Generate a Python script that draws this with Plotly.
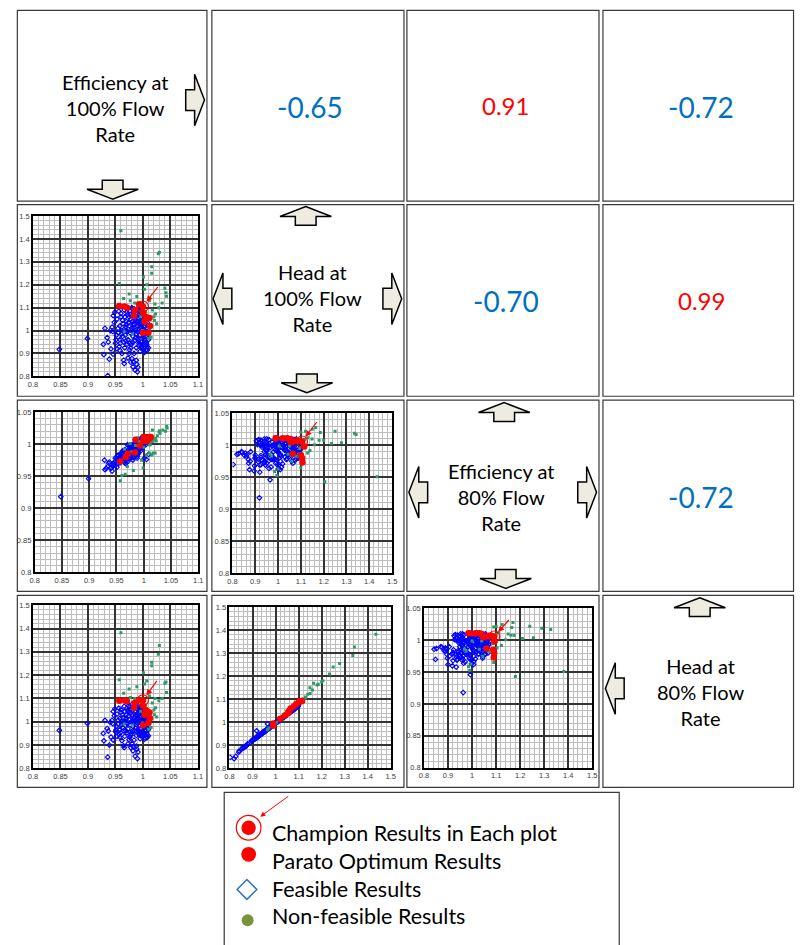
import plotly.graph_objects as go

W, H = 801, 945

# ---------------------------------------------------------------------------
# Normalised design responses (1.0 = baseline impeller)
# ---------------------------------------------------------------------------
# Feasible designs
feas_eff100 = [
    0.848, 0.899, 0.936, 0.928, 0.929, 0.935, 0.939, 0.946, 0.945, 0.948,
    0.946, 0.956, 0.958, 0.959, 0.950, 0.952, 0.955, 0.953, 0.957, 0.960,
    0.962, 0.962, 0.964, 0.965, 0.965, 0.966, 0.980, 0.983, 0.982, 0.989,
    0.986, 0.990, 0.991, 0.975, 0.995, 1.000, 1.005, 1.008, 1.002, 0.998,
    1.006, 1.010, 0.993, 0.988, 0.968, 0.970, 0.970, 0.972, 0.973, 0.975,
    0.976, 0.977, 0.978, 0.979, 0.980, 0.981, 0.982, 0.983, 0.984, 0.985,
    0.986, 0.987, 0.988, 0.989, 0.990, 0.991, 0.992, 0.993, 0.994, 0.995,
    0.996, 0.997, 0.998, 0.999, 1.000, 1.001, 1.002, 1.003, 1.004, 1.005,
    1.006, 1.007, 1.008, 1.010, 0.974, 0.980, 0.966, 0.990, 0.963, 0.969,
    0.978, 0.984, 0.993, 0.996, 0.960, 0.967, 0.986, 1.000, 0.982, 0.975,
    0.971, 0.995, 1.003, 0.988, 0.958, 0.951, 0.942, 0.944,
    0.961, 0.963, 0.967, 0.969, 0.971, 0.972, 0.974, 0.976, 0.977, 0.979,
    0.981, 0.983, 0.985, 0.987, 0.988, 0.990, 0.991, 0.992, 0.994, 0.995,
    0.997, 0.998, 0.999, 1.001, 1.002, 1.004, 1.005, 1.007, 1.009, 1.010,
    0.958, 0.955, 0.953, 0.949, 0.941, 0.937, 0.931, 0.976, 0.984, 0.973,
    0.978, 0.988, 0.996, 1.003, 1.008, 0.993, 0.981, 0.970, 0.966, 0.986,
]
feas_head100 = [
    0.918, 0.965, 0.803, 0.940, 0.895, 0.969, 0.875, 0.897, 0.996, 1.036,
    1.065, 1.084, 0.914, 0.945, 0.945, 0.980, 1.010, 1.050, 0.930, 1.060,
    0.900, 1.000, 1.030, 0.950, 0.871, 0.856, 0.878, 0.864, 0.842, 0.853,
    0.827, 0.820, 0.840, 0.900, 0.910, 0.920, 0.915, 0.930, 0.940, 0.930,
    0.950, 0.925, 0.945, 0.925, 0.980, 1.000, 1.040, 1.070, 0.960, 1.020,
    1.085, 0.990, 1.050, 0.940, 1.010, 1.065, 0.975, 1.030, 1.095, 0.955,
    1.000, 1.045, 0.985, 1.075, 1.020, 0.965, 1.055, 1.005, 1.085, 0.980,
    1.035, 0.950, 1.065, 1.000, 1.045, 0.970, 1.020, 0.990, 1.060, 0.960,
    1.010, 0.975, 1.035, 0.995, 1.098, 1.100, 1.090, 1.095, 0.975, 1.015,
    0.925, 1.012, 0.935, 1.080, 1.075, 0.925, 1.060, 0.985, 0.995, 1.060,
    0.940, 1.025, 1.040, 1.038, 1.020, 0.960, 0.920, 1.015,
    0.985, 1.045, 1.060, 0.955, 1.080, 0.995, 1.035, 0.945, 1.070, 1.000,
    0.950, 1.080, 1.025, 0.970, 1.090, 0.995, 1.040, 0.955, 1.015, 1.060,
    0.995, 1.030, 0.940, 1.005, 1.070, 0.975, 1.030, 0.940, 1.010, 0.960,
    0.960, 0.990, 0.920, 1.080, 1.000, 0.950, 1.010, 0.915, 0.900, 0.880,
    0.862, 0.870, 0.925, 0.905, 0.915, 1.070, 1.040, 1.025, 1.005, 1.085,
]
feas_eff80 = [
    0.918, 0.946, 0.970, 0.975, 0.960, 0.966, 0.962, 0.968, 0.970, 0.978,
    0.972, 0.984, 0.974, 0.985, 0.969, 0.981, 0.975, 0.983, 0.977, 0.987,
    0.979, 0.990, 0.982, 0.991, 0.972, 0.988, 0.975, 0.986, 0.989, 0.984,
    0.987, 0.986, 0.990, 0.985, 1.001, 1.004, 1.009, 1.006, 1.002, 0.997,
    1.010, 1.008, 0.993, 0.981, 0.979, 0.994, 0.985, 0.991, 0.982, 0.996,
    0.988, 0.993, 0.999, 0.990, 0.986, 0.997, 1.000, 0.992, 0.995, 0.996,
    1.003, 0.994, 1.001, 1.000, 1.005, 0.996, 1.004, 1.002, 1.007, 0.990,
    1.008, 1.003, 1.001, 1.009, 1.006, 0.978, 1.010, 1.004, 1.008, 0.976,
    1.010, 1.005, 1.009, 1.007, 0.993, 0.998, 0.980, 1.003, 0.978, 0.983,
    0.984, 0.997, 0.999, 1.010, 0.977, 0.970, 0.989, 0.999, 0.991, 0.983,
    0.973, 1.006, 1.011, 0.998, 0.971, 0.964, 0.958, 0.966,
    0.978, 0.986, 0.975, 0.984, 0.990, 0.977, 0.992, 0.981, 0.996, 0.989,
    0.993, 0.986, 1.000, 0.985, 1.004, 0.999, 0.991, 1.001, 1.005, 0.997,
    1.007, 0.995, 1.006, 1.002, 1.009, 0.999, 1.003, 1.010, 0.984, 1.009,
    0.982, 0.972, 0.969, 0.979, 0.963, 0.972, 0.962, 0.978, 0.981, 0.990,
    0.983, 0.978, 1.000, 1.007, 1.004, 0.994, 0.979, 0.999, 0.970, 0.992,
]
feas_head80 = [
    0.963, 0.993, 0.848, 0.950, 0.918, 0.971, 0.900, 0.921, 0.992, 1.026,
    1.044, 1.058, 0.934, 0.953, 0.958, 0.980, 1.007, 1.033, 0.946, 1.041,
    0.919, 0.999, 1.018, 0.961, 0.897, 0.889, 0.906, 0.892, 0.875, 0.883,
    0.852, 0.842, 0.870, 0.923, 0.927, 0.938, 0.930, 0.945, 0.953, 0.942,
    0.960, 0.939, 0.957, 0.941, 0.984, 0.995, 1.029, 1.048, 0.969, 1.010,
    1.064, 0.987, 1.037, 0.949, 1.003, 1.048, 0.980, 1.018, 1.071, 0.961,
    0.999, 1.029, 0.988, 1.056, 1.014, 0.968, 1.041, 0.999, 1.060, 0.984,
    1.022, 0.957, 1.048, 0.995, 1.033, 0.976, 1.010, 0.991, 1.045, 0.965,
    1.007, 0.976, 1.026, 0.991, 1.069, 1.075, 1.066, 1.067, 0.976, 1.010,
    0.942, 1.004, 0.946, 1.056, 1.052, 0.938, 1.045, 0.984, 0.995, 1.041,
    0.953, 1.018, 1.025, 1.024, 1.014, 0.965, 0.934, 1.006,
    0.986, 1.030, 1.044, 0.962, 1.058, 0.992, 1.024, 0.955, 1.052, 0.998,
    0.960, 1.058, 1.016, 0.973, 1.065, 0.994, 1.029, 0.962, 1.010, 1.043,
    0.993, 1.021, 0.951, 1.003, 1.051, 0.977, 1.021, 0.952, 1.006, 0.966,
    0.966, 0.989, 0.937, 1.055, 0.997, 0.960, 1.006, 0.933, 0.921, 0.905,
    0.889, 0.895, 0.940, 0.925, 0.933, 1.052, 1.027, 1.016, 1.000, 1.062,
]

# Non-feasible designs
nonf_eff100 = [
    0.960, 1.030, 1.028, 1.016, 1.016, 1.001, 0.957, 1.007, 1.003, 1.042,
    1.043, 0.965, 0.989, 0.977, 1.022, 1.012, 0.985, 1.023, 1.021, 1.015,
    1.010, 0.999, 0.981, 0.966, 0.996, 1.005, 1.017, 1.020, 1.029, 1.035,
    1.010, 1.025, 0.975, 1.000, 1.012, 0.992, 1.040, 0.970,
]
nonf_head100 = [
    1.435, 1.342, 1.335, 1.278, 1.250, 1.234, 1.205, 1.200, 1.180, 1.165,
    1.150, 1.140, 1.149, 1.130, 1.116, 1.130, 1.120, 1.072, 1.044, 0.971,
    0.965, 1.000, 0.985, 0.995, 1.060, 1.080, 1.090, 1.060, 1.100, 1.120,
    1.050, 1.030, 1.160, 1.095, 1.005, 1.110, 1.185, 1.100,
]
nonf_eff80 = [
    0.951, 1.017, 1.019, 1.004, 1.022, 1.003, 0.943, 1.008, 1.008, 1.028,
    1.025, 0.992, 1.010, 0.988, 1.009, 1.012, 0.998, 1.005, 0.986, 0.983,
    0.986, 0.963, 0.959, 0.953, 0.975, 0.983, 0.986, 1.007, 1.021, 1.022,
    0.999, 1.013, 1.001, 0.995, 0.999, 1.004, 1.020, 0.965,
]
nonf_head80 = [
    1.382, 1.327, 1.290, 1.255, 1.240, 1.210, 1.180, 1.175, 1.162, 1.170,
    1.125, 1.122, 1.150, 1.104, 1.100, 1.110, 1.100, 1.060, 1.030, 0.975,
    0.968, 0.995, 0.985, 0.990, 1.045, 1.070, 1.080, 1.050, 1.090, 1.100,
    1.040, 1.020, 1.140, 1.085, 1.000, 1.095, 1.165, 1.090,
]

# Pareto-optimum designs
par_eff100 = [0.957, 0.967, 0.971, 0.984, 0.993, 1.000, 1.003, 1.005, 1.008, 1.012, 1.013, 1.000, 1.010, 0.985]
par_head100 = [1.107, 1.105, 1.100, 1.065, 1.115, 1.080, 1.040, 1.060, 1.055, 1.055, 1.020, 0.990, 0.990, 1.090]
par_eff80 = [0.973, 0.980, 0.985, 0.987, 0.998, 1.007, 1.011, 1.005, 1.006, 1.010, 1.011, 1.011, 1.011, 1.007]
par_head80 = [1.090, 1.092, 1.088, 1.060, 1.093, 1.070, 1.030, 1.050, 1.045, 1.040, 1.015, 0.985, 0.995, 1.080]

# Champion design
champ_eff100 = [1.000]
champ_head100 = [1.105]
champ_eff80 = [1.006]
champ_head80 = [1.092]

# Correlation coefficients between responses
corr_values = ["-0.65", "0.91", "-0.72", "-0.70", "0.99", "-0.72"]

# Response names
var_labels = [
    "Efficiency at<br>100% Flow<br>Rate",
    "Head at<br>100% Flow<br>Rate",
    "Efficiency at<br>80% Flow<br>Rate",
    "Head at<br>80% Flow<br>Rate",
]

# Tick labels
eff100_ticks = [0.8, 0.85, 0.9, 0.95, 1.0, 1.05, 1.1]
eff100_text = ["0.8", "0.85", "0.9", "0.95", "1", "1.05", "1.1"]
eff80_ticks = [0.8, 0.85, 0.9, 0.95, 1.0, 1.05]
eff80_text = ["0.8", "0.85", "0.9", "0.95", "1", "1.05"]
head_ticks = [0.8, 0.9, 1.0, 1.1, 1.2, 1.3, 1.4, 1.5]
head_text = ["0.8", "0.9", "1", "1.1", "1.2", "1.3", "1.4", "1.5"]

# ---------------------------------------------------------------------------
series = {
    "eff100": (feas_eff100, nonf_eff100, par_eff100, champ_eff100),
    "head100": (feas_head100, nonf_head100, par_head100, champ_head100),
    "eff80": (feas_eff80, nonf_eff80, par_eff80, champ_eff80),
    "head80": (feas_head80, nonf_head80, par_head80, champ_head80),
}
axis_spec = {
    "eff100": (eff100_ticks, eff100_text, 0.01),
    "head100": (head_ticks, head_text, 0.02),
    "eff80": (eff80_ticks, eff80_text, 0.01),
    "head80": (head_ticks, head_text, 0.02),
}

FONT = "Lato"
BLUE_TXT = "#0070C0"
RED = "#FF0000"
FEAS_COL = "#0000FF"
NONF_COL = "#2E9966"
ARROW_FILL = "#EEECE1"


def px(x):
    return x / W


def py(y):
    return 1 - y / H


# scatter panels: x variable, y variable, plot box (left, right, top, bottom) in px,
# offset of the champion pointer (None = no pointer)
panels = [
    ("eff100", "head100", (28.3, 195.3, 214.0, 376.0), (16, -21)),
    ("eff100", "eff80", (30.0, 195.7, 412.0, 573.7), None),
    ("head100", "eff80", (230.3, 392.0, 413.3, 574.7), (16, -21)),
    ("eff100", "head80", (28.3, 195.3, 607.0, 771.7), (15, -21)),
    ("head100", "head80", (227.3, 390.7, 609.0, 771.7), None),
    ("head80", "eff80", (424.3, 594.7, 610.3, 771.0), (16, -18)),
]

fig = go.Figure()
layout_axes = {}
annotations = []
shapes = []


def axis_style(var, domain, anchor):
    ticks, text, minor_step = axis_spec[var]
    return dict(
        domain=domain, anchor=anchor,
        range=[ticks[0], ticks[-1]], tickmode="array", tickvals=ticks, ticktext=text,
        showgrid=True, gridcolor="#333333", gridwidth=1.5,
        minor=dict(tickmode="linear", tick0=ticks[0], dtick=minor_step, showgrid=True,
                   gridcolor="#bdbdbd", gridwidth=0.7, ticks=""),
        showline=True, mirror=True, linecolor="black", linewidth=1.5,
        zeroline=False, ticks="", tickfont=dict(size=7.5, color="#404040", family="Arial"),
        fixedrange=True,
    )


for i, (xv, yv, (l, r, t, b), pointer) in enumerate(panels, start=1):
    xa, ya = f"x{i}", f"y{i}"
    layout_axes[f"xaxis{i}"] = axis_style(xv, [px(l), px(r)], ya)
    layout_axes[f"yaxis{i}"] = axis_style(yv, [py(b), py(t)], xa)
    fx, nx, pxs, cx = series[xv]
    fy, ny, pys, cy = series[yv]
    fig.add_trace(go.Scatter(x=fx, y=fy, xaxis=xa, yaxis=ya, mode="markers",
                             marker=dict(symbol="diamond-open", size=3.6, color=FEAS_COL,
                                         line=dict(width=1.1, color=FEAS_COL)),
                             showlegend=False, hoverinfo="skip"))
    fig.add_trace(go.Scatter(x=nx, y=ny, xaxis=xa, yaxis=ya, mode="markers",
                             marker=dict(symbol="square", size=3, color=NONF_COL),
                             showlegend=False, hoverinfo="skip"))
    fig.add_trace(go.Scatter(x=pxs, y=pys, xaxis=xa, yaxis=ya, mode="markers",
                             marker=dict(symbol="circle", size=6.5, color=RED),
                             showlegend=False, hoverinfo="skip"))
    fig.add_trace(go.Scatter(x=cx, y=cy, xaxis=xa, yaxis=ya, mode="markers",
                             marker=dict(symbol="circle", size=6.5, color=RED),
                             showlegend=False, hoverinfo="skip"))
    if pointer is not None:
        fig.add_trace(go.Scatter(x=cx, y=cy, xaxis=xa, yaxis=ya, mode="markers",
                                 marker=dict(symbol="circle-open", size=11, color=RED,
                                             line=dict(width=1.2, color=RED)),
                                 showlegend=False, hoverinfo="skip"))
        annotations.append(dict(x=cx[0], y=cy[0], xref=xa, yref=ya, text="",
                                showarrow=True, ax=pointer[0], ay=pointer[1],
                                arrowhead=2, arrowsize=1, arrowwidth=1.2,
                                arrowcolor=RED, standoff=6))

# ---------------------------------------------------------------------------
# cell frames of the 4 x 4 matrix
col_edges = [(12.5, 204.5), (209.5, 404.0), (407.0, 601.5), (605.5, 798.5)]
row_edges = [(6.5, 199.0), (202.5, 396.0), (400.0, 593.0), (597.0, 791.0)]
for (y0, y1) in row_edges:
    for (x0, x1) in col_edges:
        shapes.append(dict(type="rect", xref="paper", yref="paper",
                           x0=px(x0), x1=px(x1), y0=py(y1), y1=py(y0),
                           line=dict(color="#3a3a3a", width=1.2), fillcolor="rgba(0,0,0,0)",
                           layer="above"))

# response names on the diagonal
diag_pos = [(111, 104.5), (311, 297), (502.5, 498), (704, 695)]
for label, (x, y) in zip(var_labels, diag_pos):
    annotations.append(dict(x=px(x), y=py(y), xref="paper", yref="paper", text=label,
                            showarrow=False, xanchor="center", yanchor="middle",
                            font=dict(family=FONT, size=20, color="black")))

# correlation coefficients in the upper triangle
corr_pos = [(309, 104), (507, 102), (705, 104), (507, 300), (705, 299), (705, 498)]
for val, (x, y) in zip(corr_values, corr_pos):
    neg = val.startswith("-")
    annotations.append(dict(x=px(x), y=py(y), xref="paper", yref="paper", text=val,
                            showarrow=False, xanchor="center", yanchor="middle",
                            font=dict(family=FONT, size=28 if neg else 24,
                                      color=BLUE_TXT if neg else RED)))


# block arrows around the diagonal cells
def block_arrow(tx, ty, direction, head_len=10, head_half=26, shaft_half=10.5, shaft_len=9):
    local = [(0, 0), (-head_len, head_half), (-head_len, shaft_half),
             (-head_len - shaft_len, shaft_half), (-head_len - shaft_len, -shaft_half),
             (-head_len, -shaft_half), (-head_len, -head_half)]
    dx, dy = {"right": (1, 0), "left": (-1, 0), "up": (0, -1), "down": (0, 1)}[direction]
    pts = [(tx + u * dx - v * dy, ty + u * dy + v * dx) for u, v in local]
    path = "M " + " L ".join(f"{px(x):.5f},{py(y):.5f}" for x, y in pts) + " Z"
    return dict(type="path", xref="paper", yref="paper", path=path,
                fillcolor=ARROW_FILL, line=dict(color="black", width=1.5), layer="above")


arrow_tips = [
    (202.0, 97.0, "right"), (109.0, 197.0, "down"),
    (304.5, 204.5, "up"), (210.7, 297.5, "left"), (401.7, 297.5, "right"), (305.7, 392.5, "down"),
    (505.5, 402.5, "up"), (409.0, 493.0, "left"), (599.0, 493.0, "right"), (507.0, 590.0, "down"),
    (703.5, 599.5, "up"), (608.0, 691.0, "left"),
]
for tx, ty, d in arrow_tips:
    shapes.append(block_arrow(tx, ty, d))

# ---------------------------------------------------------------------------
# legend panel
shapes.append(dict(type="rect", xref="paper", yref="paper", x0=px(222), x1=px(622),
                   y0=py(965), y1=py(796), line=dict(color="#3a3a3a", width=1.2),
                   fillcolor="white", layer="above"))


def circle(cx, cy, r, fill, line_col, lw):
    return dict(type="circle", xref="paper", yref="paper",
                x0=px(cx - r), x1=px(cx + r), y0=py(cy + r), y1=py(cy - r),
                fillcolor=fill, line=dict(color=line_col, width=lw), layer="above")


shapes.append(circle(246.7, 831.7, 12.5, "rgba(0,0,0,0)", RED, 1.2))
shapes.append(circle(246.7, 831.7, 7.3, RED, RED, 0))
shapes.append(circle(246.7, 858.5, 7.5, RED, RED, 0))
dx0, dy0, dh = 245.0, 894.0, 10.0
shapes.append(dict(type="path", xref="paper", yref="paper",
                   path=(f"M {px(dx0 - dh):.5f},{py(dy0):.5f} L {px(dx0):.5f},{py(dy0 - dh):.5f} "
                         f"L {px(dx0 + dh):.5f},{py(dy0):.5f} L {px(dx0):.5f},{py(dy0 + dh):.5f} Z"),
                   fillcolor="white", line=dict(color="#2E75B6", width=1.5), layer="above"))
shapes.append(circle(245.7, 925.0, 6.0, "#77933C", "#77933C", 0))

annotations.append(dict(x=px(258.5), y=py(820.5), xref="paper", yref="paper", text="",
                        showarrow=True, ax=29.5, ay=-21.5, arrowhead=2, arrowsize=1,
                        arrowwidth=1, arrowcolor=RED, standoff=0))

legend_items = ["Champion Results in Each plot", "Parato Optimum Results",
                "Feasible Results", "Non-feasible Results"]
legend_y = [836.5, 865.0, 893.5, 921.0]
for txt, y in zip(legend_items, legend_y):
    annotations.append(dict(x=px(268), y=py(y), xref="paper", yref="paper", text=txt,
                            showarrow=False, xanchor="left", yanchor="middle",
                            font=dict(family=FONT, size=21.5, color="black")))

fig.update_layout(
    width=W, height=H, autosize=False,
    margin=dict(l=0, r=0, t=0, b=0, pad=0),
    paper_bgcolor="white", plot_bgcolor="white",
    showlegend=False,
    shapes=shapes, annotations=annotations,
    **layout_axes,
)

# keep the page itself free of default body spacing
fig.write_html("out.html",
               post_script="document.body.style.margin='0';document.body.style.padding='0';")
